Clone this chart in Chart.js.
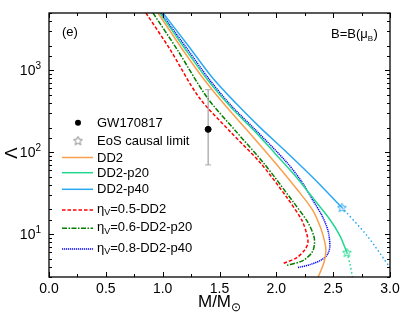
<!DOCTYPE html>
<html>
<head>
<meta charset="utf-8">
<script src="https://cdn.jsdelivr.net/npm/chart.js@4.4.0/dist/chart.umd.min.js"></script>
<style>
  html, body { margin: 0; padding: 0; background: #fff; }
</style>
</head>
<body>
<canvas id="chart" width="407" height="315"></canvas>
<script>
// M/Msun and tidal deformability Lambda
const dd2Mass = [0.959, 1.161, 1.363, 1.557, 1.768, 1.988, 2.19, 2.322, 2.392, 2.427, 2.436, 2.419, 2.366, 2.35];
const dd2Lambda = [5000, 1911, 776, 363, 169.7, 75.0, 34.1, 19.4, 11.7, 7.89, 6.30, 4.50, 2.95, 2.6];

const p20Mass = [0.976, 1.187, 1.398, 1.609, 1.812, 1.988, 2.164, 2.339, 2.471, 2.559, 2.621];
const p20Lambda = [5000, 1911, 755, 343, 179.6, 96.7, 52.0, 25.8, 15.1, 9.61, 5.96];
const p20CausalMass = [2.621, 2.647, 2.672];
const p20CausalLambda = [5.96, 4.37, 2.9];

const p40Mass = [1.003, 1.222, 1.442, 1.645, 1.856, 2.093, 2.339, 2.577];
const p40Lambda = [5000, 2021, 798.5, 395, 201, 99.4, 46.5, 21.1];
const p40CausalMass = [2.577, 2.797, 3.0];
const p40CausalLambda = [21.1, 9.61, 3.91];

const eta05Mass = [0.853, 1.064, 1.319, 1.592, 1.856, 2.093, 2.225, 2.269, 2.278, 2.252, 2.181, 2.058];
const eta05Lambda = [5000, 1806, 468, 179.6, 75.0, 28.0, 14.7, 9.89, 7.89, 6.48, 5.18, 4.37];

const eta06Mass = [0.915, 1.126, 1.39, 1.645, 1.891, 2.146, 2.278, 2.331, 2.335, 2.313, 2.234, 2.084];
const eta06Lambda = [5000, 1806, 468, 179.6, 73.0, 25.0, 13.9, 9.35, 7.46, 5.96, 4.76, 4.13];

const eta08Mass = [0.985, 1.205, 1.416, 1.609, 1.821, 2.084, 2.216, 2.322, 2.401, 2.454, 2.471, 2.454, 2.401, 2.296, 2.19];
const eta08Lambda = [5000, 1911, 755, 363, 184.7, 77.2, 45.2, 25.8, 16.9, 11.1, 7.25, 5.79, 4.89, 4.25, 3.91];

// GW170817 constraint
const gwMass = 1.4;
const gwLambda = 190;
const gwLambdaLow = 70;
const gwLambdaHigh = 580;

// causal-limit stars
const starMass = [2.577, 2.621];
const starLambda = [21.1, 5.96];

const yTickValues = [10, 100, 1000];
const yTickExp = ['1', '2', '3'];

const ORANGE = '#F9A04B', TEAL = '#22D890', LBLUE = '#2AA8F2';
const RED = '#FF0000', GREEN = '#008000', BLUE = '#0000FF';
const FONT = '"Liberation Sans", Arial, sans-serif';

const pts = (m, l) => m.map((x, i) => ({ x: x, y: l[i] }));

function makeStar(color) {
  const c = document.createElement('canvas');
  c.width = 11; c.height = 11;
  const g = c.getContext('2d');
  g.strokeStyle = color;
  g.lineWidth = 1;
  g.beginPath();
  for (let i = 0; i < 10; i++) {
    const r = i % 2 ? 2.1 : 4.7;
    const a = -Math.PI / 2 + i * Math.PI / 5;
    const x = 5.5 + r * Math.cos(a), y = 5.8 + r * Math.sin(a);
    if (i) g.lineTo(x, y); else g.moveTo(x, y);
  }
  g.closePath();
  g.stroke();
  return c;
}

const lineSet = (label, data, color, dash) => ({
  label: label,
  data: data,
  showLine: true,
  borderColor: color,
  borderWidth: 1.5,
  borderDash: dash || [],
  pointRadius: 0,
  tension: 0.3,
});

const legendItems = [
  { kind: 'line', text: 'DD2', color: ORANGE, dash: [], y: 157.5 },
  { kind: 'line', text: 'DD2-p20', color: TEAL, dash: [], y: 172.7 },
  { kind: 'line', text: 'DD2-p40', color: LBLUE, dash: [], y: 189.3 },
  { kind: 'eta', text: '=0.5-DD2', color: RED, dash: [3.5, 2], y: 210 },
  { kind: 'eta', text: '=0.6-DD2-p20', color: GREEN, dash: [5, 1.5, 1.5, 1.5], y: 228.3 },
  { kind: 'eta', text: '=0.8-DD2-p40', color: BLUE, dash: [1.2, 0.8], y: 249 },
];

const frame = {
  id: 'frame',
  afterDatasetsDraw(chart) {
    const { ctx, chartArea: a, scales: { x, y } } = chart;
    ctx.save();
    ctx.strokeStyle = '#000';
    ctx.lineWidth = 1;
    ctx.beginPath();
    x.ticks.forEach((t, i) => {
      const px = Math.round(x.getPixelForValue(t.value)) + 0.5;
      ctx.moveTo(px, a.bottom); ctx.lineTo(px, a.bottom - 5);
      ctx.moveTo(px, a.top); ctx.lineTo(px, a.top + 5);
      if (i < x.ticks.length - 1) {
        const pm = Math.round(x.getPixelForValue((t.value + x.ticks[i + 1].value) / 2)) + 0.5;
        ctx.moveTo(pm, a.bottom); ctx.lineTo(pm, a.bottom - 3);
        ctx.moveTo(pm, a.top); ctx.lineTo(pm, a.top + 3);
      }
    });
    y.ticks.forEach(t => {
      const lg = Math.log10(t.value);
      const major = Math.abs(lg - Math.round(lg)) < 1e-9;
      const len = major ? 5 : 3;
      const py = Math.round(y.getPixelForValue(t.value)) + 0.5;
      ctx.moveTo(a.left, py); ctx.lineTo(a.left + len, py);
      ctx.moveTo(a.right, py); ctx.lineTo(a.right - len, py);
    });
    ctx.stroke();
    ctx.lineWidth = 1.3;
    ctx.strokeRect(a.left, a.top, a.right - a.left, a.bottom - a.top);
    ctx.restore();
  },
  afterDraw(chart) {
    const { ctx, chartArea: a, scales: { y } } = chart;
    ctx.save();
    ctx.fillStyle = '#000';
    ctx.textBaseline = 'alphabetic';

    // y tick labels 10^n
    yTickValues.forEach((v, i) => {
      const py = y.getPixelForValue(v);
      ctx.font = '10px ' + FONT;
      const ew = ctx.measureText(yTickExp[i]).width;
      ctx.textAlign = 'left';
      ctx.fillText(yTickExp[i], 41 - ew, py - 1);
      ctx.font = '14px ' + FONT;
      ctx.textAlign = 'right';
      ctx.fillText('10', 41 - ew, py + 5);
    });

    // axis titles
    ctx.textAlign = 'left';
    ctx.font = '17px ' + FONT;
    const mw = ctx.measureText('M/M').width;
    ctx.font = '12px ' + FONT;
    const sw = ctx.measureText('\u2299').width;
    const x0 = (a.left + a.right) / 2 - (mw + sw) / 2;
    ctx.font = '17px ' + FONT;
    ctx.fillText('M/M', x0, 307);
    ctx.font = '12px ' + FONT;
    ctx.fillText('\u2299', x0 + mw, 311);

    ctx.save();
    ctx.translate(17, 153);
    ctx.rotate(-Math.PI / 2);
    ctx.font = '17px ' + FONT;
    ctx.textAlign = 'center';
    ctx.fillText('\u039B', 0, 0);
    ctx.restore();

    // panel labels
    ctx.font = '13px ' + FONT;
    ctx.textAlign = 'left';
    ctx.fillText('(e)', 62, 36);
    ctx.fillText('B=B(\u03BC', 331, 38);
    let bx = 331 + ctx.measureText('B=B(\u03BC').width;
    ctx.font = '8px ' + FONT;
    ctx.fillText('B', bx, 41);
    bx += ctx.measureText('B').width + 0.5;
    ctx.font = '13px ' + FONT;
    ctx.fillText(')', bx, 38);

    // legend
    const tx = 97;
    ctx.textBaseline = 'middle';
    ctx.beginPath();
    ctx.arc(78, 122.7, 3, 0, Math.PI * 2);
    ctx.fill();
    ctx.fillText('GW170817', tx, 123);
    ctx.drawImage(makeStar('#888'), 78 - 5.5, 140.7 - 5.5);
    ctx.fillText('EoS causal limit', tx, 141);
    legendItems.forEach(it => {
      ctx.strokeStyle = it.color;
      ctx.lineWidth = 1.5;
      ctx.setLineDash(it.dash);
      ctx.beginPath();
      ctx.moveTo(62, it.y); ctx.lineTo(93, it.y);
      ctx.stroke();
      ctx.setLineDash([]);
      ctx.font = '13px ' + FONT;
      if (it.kind === 'line') {
        ctx.fillText(it.text, tx, it.y + 0.5);
      } else {
        ctx.fillText('\u03B7', tx, it.y - 1);
        let ex = tx + ctx.measureText('\u03B7').width;
        ctx.font = '9px ' + FONT;
        ctx.fillText('V', ex, it.y + 3);
        ex += ctx.measureText('V').width;
        ctx.font = '13px ' + FONT;
        ctx.fillText(it.text, ex, it.y - 1);
      }
    });
    ctx.restore();
  }
};

Chart.defaults.font.family = FONT;
Chart.defaults.color = '#000';

const ctx = document.getElementById('chart').getContext('2d');
new Chart(ctx, {
  type: 'scatter',
  data: {
    datasets: [
      {
        label: 'GW170817',
        data: [{ x: gwMass, y: gwLambda }],
        pointRadius: 3,
        pointBackgroundColor: '#000',
        pointBorderColor: '#000',
      },
      {
        label: 'error',
        data: [{ x: gwMass, y: gwLambdaLow }, { x: gwMass, y: gwLambdaHigh }],
        showLine: true,
        borderColor: '#8c8c8c',
        borderWidth: 1,
        pointStyle: 'line',
        pointRadius: 3,
        pointBorderColor: '#aaa',
        pointBorderWidth: 1,
      },
      {
        label: 'p40 star',
        data: [{ x: starMass[0], y: starLambda[0] }],
        pointStyle: makeStar(LBLUE),
        pointRadius: 5,
      },
      {
        label: 'p20 star',
        data: [{ x: starMass[1], y: starLambda[1] }],
        pointStyle: makeStar(TEAL),
        pointRadius: 5,
      },
      lineSet('DD2', pts(dd2Mass, dd2Lambda), ORANGE),
      lineSet('DD2-p20', pts(p20Mass, p20Lambda), TEAL),
      lineSet('DD2-p40', pts(p40Mass, p40Lambda), LBLUE),
      lineSet('p20 causal', pts(p20CausalMass, p20CausalLambda), TEAL, [1.5, 2.5]),
      lineSet('p40 causal', pts(p40CausalMass, p40CausalLambda), LBLUE, [1.5, 2.5]),
      lineSet('eta0.8', pts(eta08Mass, eta08Lambda), BLUE, [1.2, 0.8]),
      lineSet('eta0.6', pts(eta06Mass, eta06Lambda), GREEN, [5, 1.5, 1.5, 1.5]),
      lineSet('eta0.5', pts(eta05Mass, eta05Lambda), RED, [3.5, 2]),
    ],
  },
  options: {
    responsive: false,
    animation: false,
    layout: { padding: { left: 0, right: 17, top: 13, bottom: 0 } },
    plugins: {
      legend: { display: false },
      tooltip: { enabled: false },
    },
    scales: {
      x: {
        type: 'linear',
        min: 0,
        max: 3,
        grid: { display: false, drawTicks: false },
        border: { display: false },
        ticks: {
          stepSize: 0.5,
          padding: 4,
          font: { size: 14 },
          callback: v => v.toFixed(1),
        },
        afterFit: s => { s.height = 38; },
      },
      y: {
        type: 'logarithmic',
        min: 3,
        max: 5000,
        grid: { display: false, drawTicks: false },
        border: { display: false },
        ticks: { display: false },
        afterFit: s => { s.width = 49; },
      },
    },
  },
  plugins: [frame],
});
</script>
</body>
</html>
